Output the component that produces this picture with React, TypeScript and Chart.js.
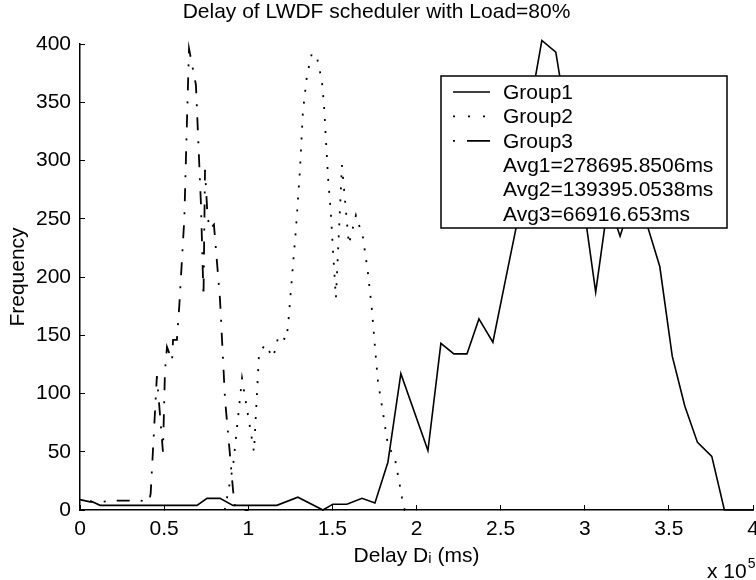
import React, { useEffect, useRef } from "react";
import { Chart, registerables } from "chart.js";

Chart.register(...registerables);

// ---- text ----
const TITLE = "Delay of LWDF scheduler with Load=80%";
const X_LABEL = "Delay D\u1D62 (ms)";
const Y_LABEL = "Frequency";
const X_EXPONENT_BASE = "x 10";
const X_EXPONENT = "5";
const SERIES_NAMES = ["Group1", "Group2", "Group3"];
const AVG_LABELS = ["Avg1=278695.8506ms", "Avg2=139395.0538ms", "Avg3=66916.653ms"];

// ---- axis ranges and tick labels (x in units of 10^5 ms) ----
const X_MIN = 0;
const X_MAX = 4;
const X_STEP = 0.5;
const X_TICK_LABELS = ["0", "0.5", "1", "1.5", "2", "2.5", "3", "3.5", "4"];
const Y_MIN = 0;
const Y_MAX = 400;
const Y_STEP = 50;
const Y_TICK_LABELS = ["0", "50", "100", "150", "200", "250", "300", "350", "400"];

// ---- Group1 (solid) ----
const g1X = [0.06, 0.12, 0.695, 0.755, 0.832, 0.909, 1.17, 1.295, 1.444, 1.503, 1.586, 1.676, 1.753, 1.83, 1.907, 2.068, 2.145, 2.222, 2.3, 2.371, 2.454, 2.531, 2.61, 2.68, 2.745, 2.828, 2.91, 2.99, 3.065, 3.14, 3.21, 3.27, 3.37, 3.446, 3.52, 3.595, 3.67, 3.755, 3.83, 4.0];
const g1Y = [8, 4, 4, 10, 10, 4, 4, 11, 0, 5, 5, 10, 6, 41, 117, 51, 143, 134, 134, 164, 144, 199, 255, 350, 403, 393, 320, 265, 187, 265, 235, 262, 245, 209, 132, 89, 58, 46, 0, 0];

// ---- Group2 (dotted) ----
const g2X = [0.86, 0.91, 0.963, 1.034, 1.064, 1.1, 1.147, 1.165, 1.18, 1.224, 1.236, 1.265, 1.283, 1.307, 1.325, 1.349, 1.378, 1.408, 1.438, 1.45, 1.462, 1.474, 1.491, 1.503, 1.521, 1.557, 1.598, 1.64, 1.682, 1.711, 1.735, 1.753, 1.771, 1.795, 1.83, 1.872, 1.901, 1.913, 1.93, 1.96];
const g2Y = [0, 38, 113, 50, 134, 142, 131, 140, 150, 146, 157, 209, 240, 291, 342, 373, 392, 389, 368, 348, 317, 286, 255, 224, 182, 296, 228, 253, 234, 204, 172, 140, 110, 89, 56, 44, 21, 11, 0, 0];

// ---- Group3 (dash-dot) ----
const g3X = [0.0, 0.06, 0.12, 0.2, 0.3, 0.36, 0.41, 0.42, 0.457, 0.493, 0.505, 0.517, 0.547, 0.553, 0.576, 0.59, 0.62, 0.635, 0.648, 0.689, 0.719, 0.734, 0.743, 0.758, 0.772, 0.796, 0.832, 0.862, 0.891, 0.909, 0.921, 0.95, 1.0];
const g3Y = [9, 7, 7, 8, 8, 8, 7, 14, 115, 50, 119, 140, 128, 146, 146, 175, 250, 330, 396, 365, 262, 183, 292, 252, 241, 245, 181, 95, 48, 18, 3, 0, 0];

// ---- styles ----
const FONT_FAMILY = "'Liberation Sans', Arial, Helvetica, sans-serif";
const INK = "#000000";
const DASHES: number[][] = [[], [2, 10], [13, 11, 2, 11]];
const LEGEND_DASHES: number[][] = [[], [2, 13], [2, 12, 23, 100]];

const toPoints = (xs: number[], ys: number[]) => xs.map((x, i) => ({ x, y: ys[i] }));

const boxLegend = {
  id: "boxLegend",
  afterDatasetsDraw(chart: any) {
    const { ctx, chartArea } = chart;
    const left = chartArea.left + 361;
    const top = chartArea.top + 32;
    const w = 286;
    const h = 152;
    ctx.save();
    ctx.fillStyle = "#ffffff";
    ctx.fillRect(left, top, w, h);
    ctx.strokeStyle = INK;
    ctx.lineWidth = 1.5;
    ctx.setLineDash([]);
    ctx.strokeRect(left, top, w, h);
    const rowH = 24.4;
    const firstY = top + 16;
    ctx.font = `21px ${FONT_FAMILY}`;
    ctx.fillStyle = INK;
    ctx.textBaseline = "middle";
    ctx.textAlign = "left";
    const lines = [...SERIES_NAMES, ...AVG_LABELS];
    lines.forEach((txt, i) => {
      const yy = firstY + i * rowH;
      if (i < SERIES_NAMES.length) {
        const ds = chart.data.datasets[i];
        ctx.save();
        ctx.strokeStyle = INK;
        ctx.lineWidth = ds.borderWidth;
        ctx.setLineDash(LEGEND_DASHES[i]);
        ctx.beginPath();
        ctx.moveTo(left + 12, yy);
        ctx.lineTo(left + 49, yy);
        ctx.stroke();
        ctx.restore();
      }
      ctx.fillText(txt, left + 62, yy + 1);
    });
    ctx.restore();
  },
  afterDraw(chart: any) {
    const { ctx, chartArea } = chart;
    ctx.save();
    ctx.fillStyle = INK;
    ctx.textBaseline = "alphabetic";
    ctx.textAlign = "left";
    ctx.font = `21px ${FONT_FAMILY}`;
    const bx = chartArea.right - 46;
    const by = chartArea.bottom + 68;
    ctx.fillText(X_EXPONENT_BASE, bx, by);
    const wBase = ctx.measureText(X_EXPONENT_BASE).width;
    ctx.font = `14px ${FONT_FAMILY}`;
    ctx.fillText(X_EXPONENT, bx + wBase + 1, by - 10);
    ctx.restore();
  },
};

export default function App() {
  const ref = useRef<HTMLCanvasElement | null>(null);

  useEffect(() => {
    if (!ref.current) return;
    Chart.defaults.font.family = FONT_FAMILY;
    Chart.defaults.color = INK;
    const datasets = [
      { data: toPoints(g1X, g1Y) },
      { data: toPoints(g2X, g2Y) },
      { data: toPoints(g3X, g3Y) },
    ].map((d, i) => ({
      label: SERIES_NAMES[i],
      data: d.data,
      borderColor: INK,
      backgroundColor: INK,
      borderWidth: i === 0 ? 1.6 : 1.8,
      borderDash: DASHES[i],
      pointRadius: 0,
      tension: 0,
      fill: false,
      clip: false,
    }));

    const chart = new Chart(ref.current, {
      type: "line",
      data: { datasets },
      plugins: [boxLegend],
      options: {
        animation: false,
        responsive: false,
        events: [],
        layout: { padding: { left: 0, right: 3, top: 0, bottom: 0 } },
        plugins: {
          legend: { display: false },
          tooltip: { enabled: false },
          title: {
            display: true,
            text: TITLE,
            color: INK,
            font: { size: 21, weight: "normal", family: FONT_FAMILY, lineHeight: 1.2 },
            padding: { top: 0, bottom: 18.8 },
          },
        },
        scales: {
          x: {
            type: "linear",
            min: X_MIN,
            max: X_MAX,
            border: { display: true, color: INK, width: 1.5 },
            grid: { drawOnChartArea: false, drawTicks: true, tickLength: -5, color: INK, lineWidth: 1 },
            ticks: {
              stepSize: X_STEP,
              color: INK,
              font: { size: 21 },
              padding: 12,
              maxRotation: 0,
              autoSkip: false,
              callback: (_v: any, i: number) => X_TICK_LABELS[i],
            },
            title: {
              display: true,
              text: X_LABEL,
              color: INK,
              font: { size: 21, family: FONT_FAMILY },
              padding: { top: 0, bottom: 11.4 },
            },
            afterFit: (s: any) => {
              s.height = 70;
              s.paddingLeft = 0;
              s.paddingRight = 0;
            },
          },
          y: {
            type: "linear",
            min: Y_MIN,
            max: Y_MAX,
            border: { display: true, color: INK, width: 1.5 },
            grid: { drawOnChartArea: false, drawTicks: true, tickLength: -5, color: INK, lineWidth: 1 },
            ticks: {
              stepSize: Y_STEP,
              color: INK,
              font: { size: 21 },
              padding: 14,
              callback: (_v: any, i: number) => Y_TICK_LABELS[i],
            },
            title: {
              display: true,
              text: Y_LABEL,
              color: INK,
              font: { size: 21, family: FONT_FAMILY },
              padding: { top: 6, bottom: 0 },
            },
            afterFit: (s: any) => {
              s.width = 80;
              s.paddingTop = 0;
              s.paddingBottom = 0;
            },
          },
        },
      },
    } as any);
    return () => chart.destroy();
  }, []);

  return (
    <div style={{ position: "absolute", left: 0, top: 0, width: 756, height: 580, background: "#fff" }}>
      <canvas ref={ref} width={756} height={580} style={{ display: "block" }} />
    </div>
  );
}
